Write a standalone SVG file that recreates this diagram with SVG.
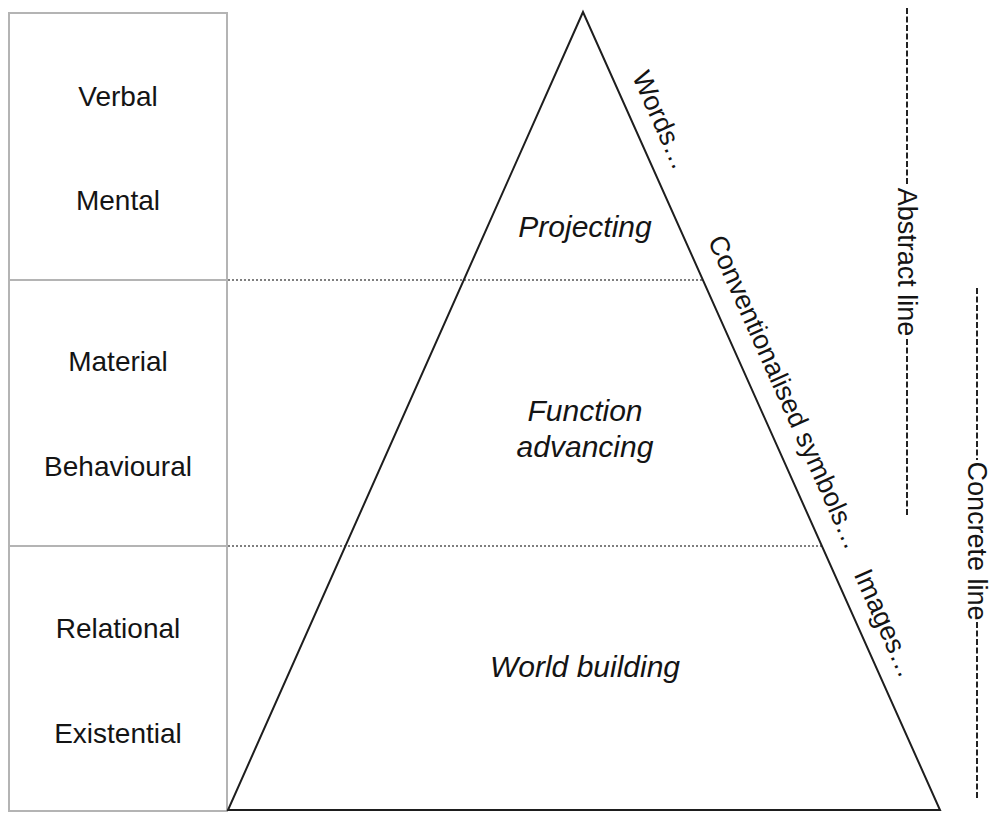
<svg xmlns="http://www.w3.org/2000/svg" width="991" height="814" viewBox="0 0 991 814">
  <style>
    .box { fill: none; stroke: #b4b4b4; stroke-width: 2; }
    .tri { fill: none; stroke: #1e1e1e; stroke-width: 2; stroke-linejoin: miter; }
    .dot { stroke: #555; stroke-width: 1.6; stroke-dasharray: 2 2; }
    .dash { stroke: #222; stroke-width: 2; stroke-dasharray: 6 2.5; }
    .lbl { font-family: "Liberation Sans", Arial, sans-serif; font-size: 28px; fill: #141414; text-anchor: middle; }
    .it { font-family: "Liberation Sans", Arial, sans-serif; font-size: 30px; font-style: italic; fill: #141414; text-anchor: middle; }
    .side { font-family: "Liberation Sans", Arial, sans-serif; font-size: 27px; fill: #141414; text-anchor: middle; }
  </style>

  <rect width="991" height="814" fill="#ffffff"/>

  <!-- process-type column on the left -->
  <g id="process-column">
    <rect class="box" x="9" y="13" width="218" height="798"/>
    <line class="box" x1="9" y1="280" x2="227" y2="280"/>
    <line class="box" x1="9" y1="546" x2="227" y2="546"/>
  </g>
  <g id="band-projecting-processes">
    <text class="lbl" x="118" y="106">Verbal</text>
    <text class="lbl" x="118" y="210">Mental</text>
  </g>
  <g id="band-advancing-processes">
    <text class="lbl" x="118" y="371">Material</text>
    <text class="lbl" x="118" y="476">Behavioural</text>
  </g>
  <g id="band-building-processes">
    <text class="lbl" x="118" y="638">Relational</text>
    <text class="lbl" x="118" y="743">Existential</text>
  </g>

  <!-- pyramid and its band separators -->
  <g id="connectors">
    <line class="dot" x1="228" y1="280" x2="703" y2="280"/>
    <line class="dot" x1="228" y1="546" x2="822" y2="546"/>
  </g>
  <g id="pyramid">
    <polygon class="tri" points="583,12 228,810 940,810"/>
  </g>

  <g id="level-projecting">
    <text class="it" x="585" y="237">Projecting</text>
  </g>
  <g id="level-function">
    <text class="it" x="585" y="421">Function</text>
    <text class="it" x="585" y="457">advancing</text>
  </g>
  <g id="level-world">
    <text class="it" x="585" y="677">World building</text>
  </g>

  <!-- labels running along the right slope (angle of slope = 65.9deg) -->
  <g id="slope-words">
    <text class="side" x="653" y="124" transform="rotate(65.9 653 124)">Words…</text>
  </g>
  <g id="slope-symbols">
    <text class="side" x="777" y="396" transform="rotate(65.9 777 396)">Conventionalised symbols…</text>
  </g>
  <g id="slope-images">
    <text class="side" x="877" y="627" transform="rotate(65.9 877 627)">Images…</text>
  </g>

  <!-- abstract / concrete scale lines -->
  <g id="abstract-line">
    <line class="dash" x1="907" y1="8" x2="907" y2="185"/>
    <text class="side" x="898" y="262" transform="rotate(90 898 262)">Abstract line</text>
    <line class="dash" x1="907" y1="339" x2="907" y2="515"/>
  </g>
  <g id="concrete-line">
    <line class="dash" x1="977" y1="288" x2="977" y2="460"/>
    <text class="side" x="968" y="541" transform="rotate(90 968 541)">Concrete line</text>
    <line class="dash" x1="977" y1="622" x2="977" y2="798"/>
  </g>
</svg>
